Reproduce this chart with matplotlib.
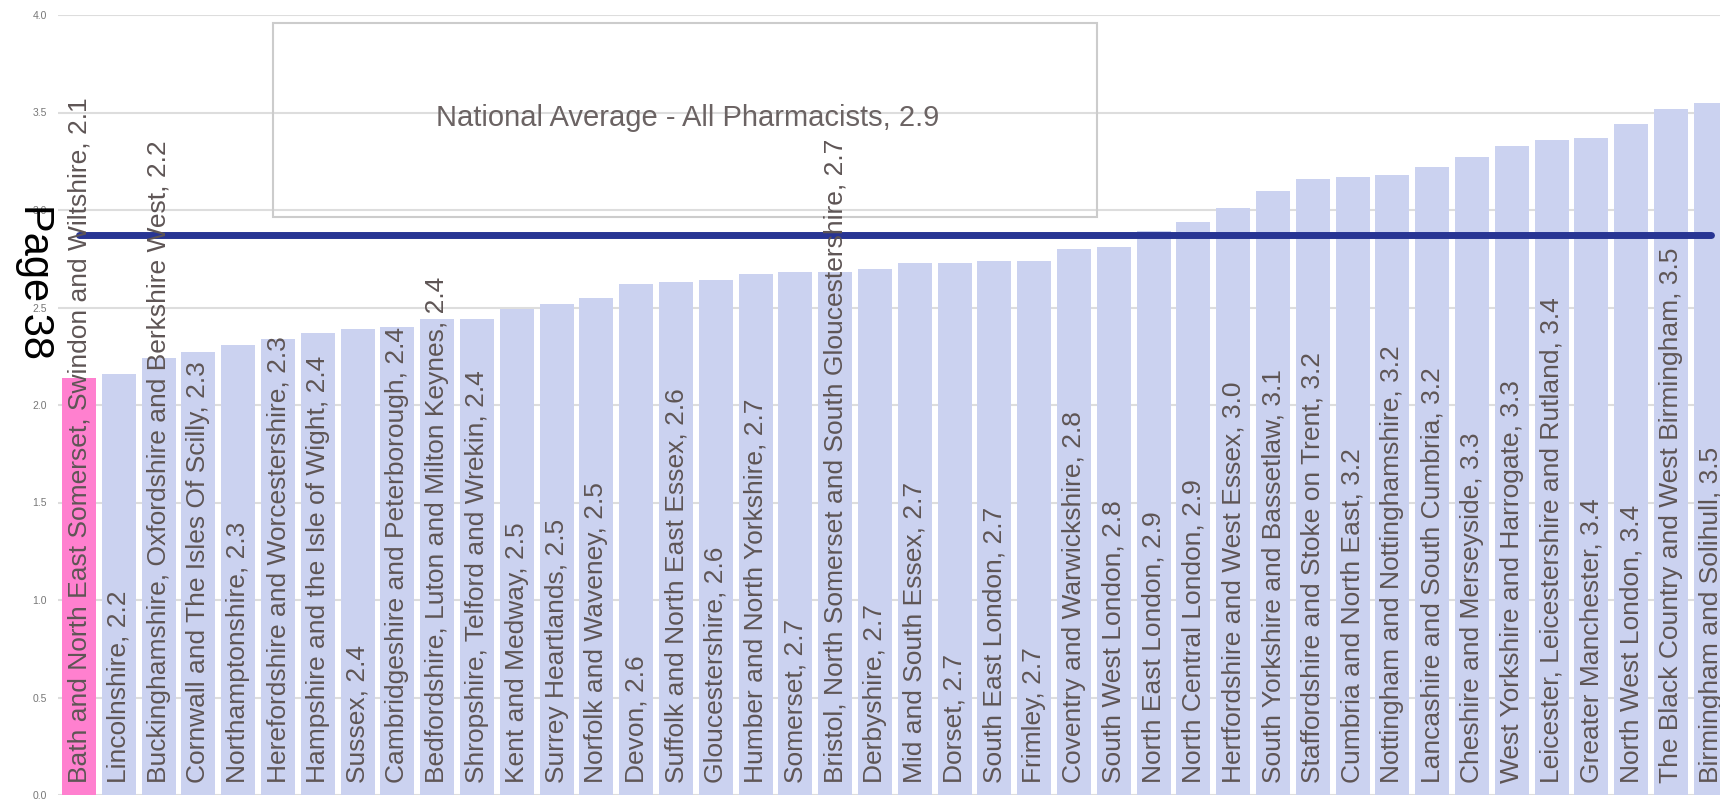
import matplotlib
matplotlib.use("Agg")
from matplotlib import pyplot as plt
from matplotlib.patches import Rectangle

plt.rcParams['font.family'] = ['Liberation Sans', 'DejaVu Sans']

# regions (ICS) and ratio values, sorted ascending
regions = [
    "Bath and North East Somerset, Swindon and Wiltshire",
    "Lincolnshire",
    "Buckinghamshire, Oxfordshire and Berkshire West",
    "Cornwall and The Isles Of Scilly",
    "Northamptonshire",
    "Herefordshire and Worcestershire",
    "Hampshire and the Isle of Wight",
    "Sussex",
    "Cambridgeshire and Peterborough",
    "Bedfordshire, Luton and Milton Keynes",
    "Shropshire, Telford and Wrekin",
    "Kent and Medway",
    "Surrey Heartlands",
    "Norfolk and Waveney",
    "Devon",
    "Suffolk and North East Essex",
    "Gloucestershire",
    "Humber and North Yorkshire",
    "Somerset",
    "Bristol, North Somerset and South Gloucestershire",
    "Derbyshire",
    "Mid and South Essex",
    "Dorset",
    "South East London",
    "Frimley",
    "Coventry and Warwickshire",
    "South West London",
    "North East London",
    "North Central London",
    "Hertfordshire and West Essex",
    "South Yorkshire and Bassetlaw",
    "Staffordshire and Stoke on Trent",
    "Cumbria and North East",
    "Nottingham and Nottinghamshire",
    "Lancashire and South Cumbria",
    "Cheshire and Merseyside",
    "West Yorkshire and Harrogate",
    "Leicester, Leicestershire and Rutland",
    "Greater Manchester",
    "North West London",
    "The Black Country and West Birmingham",
    "Birmingham and Solihull",
]
values = [2.14, 2.16, 2.24, 2.27, 2.31, 2.34, 2.37, 2.39, 2.40, 2.44, 2.44,
          2.49, 2.52, 2.55, 2.62, 2.63, 2.64, 2.67, 2.68, 2.68, 2.70, 2.73,
          2.73, 2.74, 2.74, 2.80, 2.81, 2.89, 2.94, 3.01, 3.10, 3.16, 3.17,
          3.18, 3.22, 3.27, 3.33, 3.36, 3.37, 3.44, 3.52, 3.55]
highlight = "Bath and North East Somerset, Swindon and Wiltshire"
national_avg = 2.87
national_label = "National Average - All Pharmacists, 2.9"
yticks = [0.0, 0.5, 1.0, 1.5, 2.0, 2.5, 3.0, 3.5, 4.0]

text_col = "#5e5555"
bar_col = "#cbd2f0"
pink = "#ff80cf"
line_col = "#283593"

fig = plt.figure(figsize=(17.2, 8), dpi=100)
ax = fig.add_axes([58 / 1720, 5 / 800, 1662 / 1720, 780 / 800])

x = list(range(len(regions)))
colors = [pink if r == highlight else bar_col for r in regions]
ax.bar(x, values, width=0.855, color=colors, zorder=2)

# labels written up inside each bar
for i, (r, v) in enumerate(zip(regions, values)):
    ax.text(i, 0.06, f"{r}, {v:.1f}", rotation=90, ha="center", va="bottom",
            fontsize=19, color=text_col, zorder=4)

# national average line
ax.plot([x[0], x[-1]], [national_avg, national_avg], color=line_col, lw=5,
        solid_capstyle="round", zorder=3)

# label box for the average
ax.add_patch(Rectangle((4.87, 2.964), 20.7, 0.995, fill=False,
                       edgecolor="#cccccc", lw=1.5, zorder=3))
ax.text(15.3, 3.47, national_label, ha="center", va="center", fontsize=21,
        color="#6b6363", zorder=4)

ax.set_xlim(-0.528, 41.23)
ax.set_ylim(0, 4)
ax.set_yticks(yticks)
ax.set_yticklabels([f"{t:.1f}" for t in yticks])
ax.tick_params(axis="y", length=0, labelsize=7.5, labelcolor="#777777", pad=8)
ax.set_xticks([])
ax.grid(axis="y", color="#dddddd", lw=1.5, zorder=0)
for s in ax.spines.values():
    s.set_visible(False)

fig.text(35 / 1720, 1 - 281 / 800, "Page 38", rotation=-90, ha="center",
         va="center", fontsize=30, color="black")

fig.savefig("out.png", dpi=100)
